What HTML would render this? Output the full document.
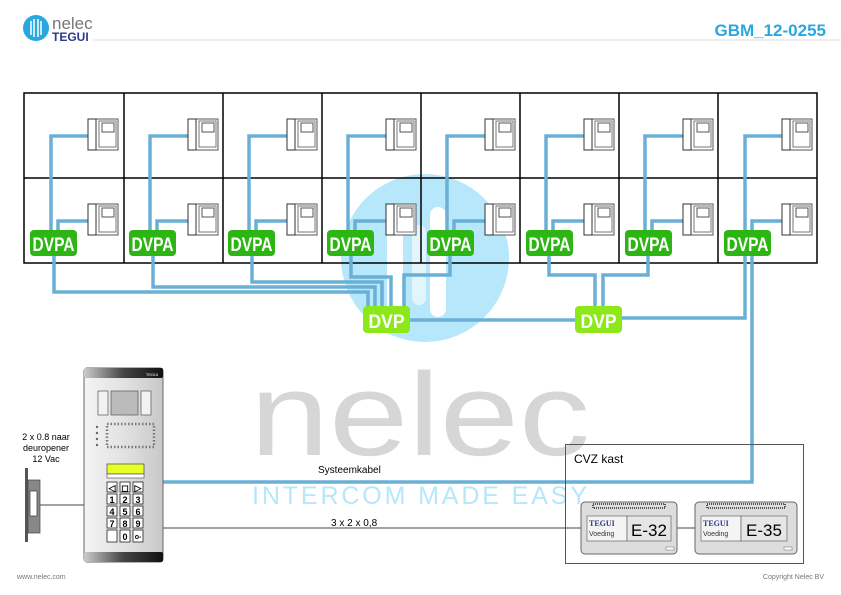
<!DOCTYPE html>
<html><head><meta charset="utf-8"><style>
html,body{margin:0;padding:0;background:#fff;}
svg{display:block;font-family:"Liberation Sans",sans-serif;}
</style></head><body>
<svg width="841" height="595" viewBox="0 0 841 595" xmlns="http://www.w3.org/2000/svg">
<defs>
<g id="ph">
<rect x="0" y="0" width="30" height="31" fill="#fff" stroke="#555" stroke-width="1"/>
<rect x="0" y="0" width="8" height="31" fill="#fff" stroke="#333" stroke-width="1"/>
<rect x="11" y="2" width="17" height="26" fill="#fff" stroke="#777" stroke-width="1"/>
<rect x="14" y="4" width="12" height="9" fill="#fff" stroke="#555" stroke-width="1"/>
</g>
<linearGradient id="pg" x1="0" x2="1"><stop offset="0" stop-color="#f4f4f4"/><stop offset="0.5" stop-color="#e2e2e2"/><stop offset="1" stop-color="#c8c8c8"/></linearGradient>
<linearGradient id="bg" x1="0" x2="1"><stop offset="0" stop-color="#ccc"/><stop offset="0.5" stop-color="#444"/><stop offset="1" stop-color="#111"/></linearGradient>
</defs>

<!-- header -->
<circle cx="36" cy="28" r="13" fill="#29a8e0"/>
<path d="M31 21v14M34 19v18M38 19v18M41 21v14" stroke="#fff" stroke-width="1.5"/>
<text x="52" y="29" font-size="17" fill="#777">nelec</text>
<text x="52" y="41" font-size="12" font-weight="bold" fill="#2a3a8a">TEGUI</text>
<line x1="93" y1="40" x2="841" y2="40" stroke="#ddd" stroke-width="1"/>
<text x="826" y="36" font-size="17" font-weight="bold" fill="#29a8e0" text-anchor="end">GBM_12-0255</text>

<!-- watermark circle -->
<circle cx="425" cy="258" r="84" fill="#b6e7fa"/>
<rect x="387" y="219" width="16" height="110" rx="8" fill="#fff"/>
<rect x="430" y="207" width="16" height="110" rx="8" fill="#fff"/>
<rect x="412" y="225" width="14" height="80" rx="7" fill="#fff" opacity="0.6"/>

<!-- nelec watermark -->
<text x="250" y="455" font-size="118" fill="#d6d6d6" textLength="340" lengthAdjust="spacingAndGlyphs">nelec</text>
<text x="252" y="504" font-size="25" fill="#b6e7fa" textLength="338" lengthAdjust="spacing" letter-spacing="3">INTERCOM MADE EASY</text>

<!-- grid -->
<g fill="none" stroke="#000" stroke-width="1.5">
<rect x="24" y="93" width="793" height="170"/>
<line x1="24" y1="178" x2="817" y2="178"/>
<line x1="124" y1="93" x2="124" y2="263"/>
<line x1="223" y1="93" x2="223" y2="263"/>
<line x1="322" y1="93" x2="322" y2="263"/>
<line x1="421" y1="93" x2="421" y2="263"/>
<line x1="520" y1="93" x2="520" y2="263"/>
<line x1="619" y1="93" x2="619" y2="263"/>
<line x1="718" y1="93" x2="718" y2="263"/>
</g>

<!-- wires -->
<g fill="none" stroke="#6ab0d6" stroke-width="3.5">
<!-- per column phone wires -->
<path d="M88 136H51V245M88 221H58V245"/>
<path d="M188 136H150V245M188 221H157V245"/>
<path d="M287 136H249V245M287 221H256V245"/>
<path d="M386 136H348V245M386 221H355V245"/>
<path d="M485 136H447V245M485 221H454V245"/>
<path d="M584 136H546V245M584 221H553V245"/>
<path d="M683 136H645V245M683 221H652V245"/>
<path d="M782 136H745V245M782 221H752V245"/>
<!-- buses to DVP1 -->
<path d="M54 256V292H368V310"/>
<path d="M153 256V287H375V310"/>
<path d="M252 256V282H382V310"/>
<path d="M351 256V277H391V310"/>
<path d="M450 256V275H404V310"/>
<!-- to DVP2 -->
<path d="M549 256V275H595V310"/>
<path d="M648 256V275H603V310"/>
<path d="M745 256V318H620"/>
<path d="M408 320H578"/>
<path d="M752 256V482H163"/>
</g>

<!-- DVPA badges -->
<g font-size="19" font-weight="bold" fill="#fff" text-anchor="middle">
<g fill="#2db514"><rect x="30" y="230" width="47" height="26" rx="4"/><rect x="129" y="230" width="47" height="26" rx="4"/><rect x="228" y="230" width="47" height="26" rx="4"/><rect x="327" y="230" width="47" height="26" rx="4"/><rect x="427" y="230" width="47" height="26" rx="4"/><rect x="526" y="230" width="47" height="26" rx="4"/><rect x="625" y="230" width="47" height="26" rx="4"/><rect x="724" y="230" width="47" height="26" rx="4"/></g>
<text x="53.5" y="251" textLength="42" lengthAdjust="spacingAndGlyphs">DVPA</text>
<text x="152.5" y="251" textLength="42" lengthAdjust="spacingAndGlyphs">DVPA</text>
<text x="251.5" y="251" textLength="42" lengthAdjust="spacingAndGlyphs">DVPA</text>
<text x="350.5" y="251" textLength="42" lengthAdjust="spacingAndGlyphs">DVPA</text>
<text x="450.5" y="251" textLength="42" lengthAdjust="spacingAndGlyphs">DVPA</text>
<text x="549.5" y="251" textLength="42" lengthAdjust="spacingAndGlyphs">DVPA</text>
<text x="648.5" y="251" textLength="42" lengthAdjust="spacingAndGlyphs">DVPA</text>
<text x="747.5" y="251" textLength="42" lengthAdjust="spacingAndGlyphs">DVPA</text>
<g fill="#8de81a"><rect x="363" y="306" width="47" height="27" rx="4"/><rect x="575" y="306" width="47" height="27" rx="4"/></g>
<text x="386.5" y="328" textLength="36" lengthAdjust="spacingAndGlyphs">DVP</text>
<text x="598.5" y="328" textLength="36" lengthAdjust="spacingAndGlyphs">DVP</text>
</g>

<!-- phones -->
<use href="#ph" x="88" y="119"/><use href="#ph" x="88" y="204"/>
<use href="#ph" x="188" y="119"/><use href="#ph" x="188" y="204"/>
<use href="#ph" x="287" y="119"/><use href="#ph" x="287" y="204"/>
<use href="#ph" x="386" y="119"/><use href="#ph" x="386" y="204"/>
<use href="#ph" x="485" y="119"/><use href="#ph" x="485" y="204"/>
<use href="#ph" x="584" y="119"/><use href="#ph" x="584" y="204"/>
<use href="#ph" x="683" y="119"/><use href="#ph" x="683" y="204"/>
<use href="#ph" x="782" y="119"/><use href="#ph" x="782" y="204"/>

<!-- lock -->
<text x="46" y="440" font-size="9" text-anchor="middle" fill="#000">2 x 0.8 naar</text>
<text x="46" y="451" font-size="9" text-anchor="middle" fill="#000">deuropener</text>
<text x="46" y="462" font-size="9" text-anchor="middle" fill="#000">12 Vac</text>
<rect x="25" y="468" width="3" height="74" fill="#555"/>
<rect x="28" y="480" width="12" height="53" fill="#888" stroke="#444" stroke-width="0.7"/>
<rect x="30" y="491" width="7" height="25" fill="#fff" stroke="#333" stroke-width="0.7"/>
<line x1="40" y1="505" x2="84" y2="505" stroke="#444" stroke-width="1"/>
<line x1="163" y1="528" x2="582" y2="528" stroke="#444" stroke-width="1"/>
<line x1="677" y1="528" x2="695" y2="528" stroke="#444" stroke-width="1"/>

<!-- panel -->
<rect x="84" y="368" width="79" height="194" rx="3" fill="url(#pg)" stroke="#666" stroke-width="1"/>
<rect x="84" y="368" width="79" height="10" rx="2" fill="url(#bg)"/>
<rect x="84" y="552" width="79" height="10" rx="2" fill="url(#bg)"/>
<text x="152" y="376" font-size="4" fill="#fff" text-anchor="middle">TEGUI</text>
<rect x="98" y="391" width="10" height="24" fill="#f2f2f2" stroke="#555" stroke-width="0.7"/>
<rect x="111" y="391" width="27" height="24" fill="#bbb" stroke="#555" stroke-width="0.7"/>
<rect x="141" y="391" width="10" height="24" fill="#f2f2f2" stroke="#555" stroke-width="0.7"/>
<g fill="#666">
<circle cx="97" cy="427" r="1.2"/><circle cx="97" cy="433" r="1.2"/><circle cx="97" cy="439" r="1.2"/><circle cx="97" cy="445" r="1.2"/>
</g>
<rect x="107" y="424" width="47" height="23" fill="none" stroke="#777" stroke-width="2.5" stroke-dasharray="1.5 2"/>
<rect x="107" y="464" width="37" height="10" fill="#e8ff2a" stroke="#444" stroke-width="0.7"/>
<rect x="107" y="474" width="37" height="4" fill="#fff" stroke="#444" stroke-width="0.6"/>
<g fill="#fff" stroke="#222" stroke-width="0.8">
<rect x="107" y="482" width="10" height="10"/><rect x="120" y="482" width="10" height="10"/><rect x="133" y="482" width="10" height="10"/>
<rect x="107" y="494" width="10" height="10"/><rect x="120" y="494" width="10" height="10"/><rect x="133" y="494" width="10" height="10"/>
<rect x="107" y="506" width="10" height="10"/><rect x="120" y="506" width="10" height="10"/><rect x="133" y="506" width="10" height="10"/>
<rect x="107" y="518" width="10" height="10"/><rect x="120" y="518" width="10" height="10"/><rect x="133" y="518" width="10" height="10"/>
<rect x="107" y="530" width="10" height="12"/><rect x="120" y="530" width="10" height="12"/><rect x="133" y="530" width="10" height="12"/>
</g>
<g font-size="9" font-weight="bold" text-anchor="middle" fill="#000">
<text x="112" y="491">◁</text><text x="125" y="491">◻</text><text x="138" y="491">▷</text>
<text x="112" y="503">1</text><text x="125" y="503">2</text><text x="138" y="503">3</text>
<text x="112" y="515">4</text><text x="125" y="515">5</text><text x="138" y="515">6</text>
<text x="112" y="527">7</text><text x="125" y="527">8</text><text x="138" y="527">9</text>
<text x="125" y="540">0</text><text x="138" y="539" font-size="7">o-</text>
</g>

<!-- labels -->
<text x="318" y="473" font-size="10" fill="#000">Systeemkabel</text>
<text x="331" y="526" font-size="10" fill="#000">3 x 2 x 0,8</text>

<!-- CVZ kast -->
<rect x="565.5" y="444.5" width="238" height="119" fill="none" stroke="#555" stroke-width="1"/>
<text x="574" y="463" font-size="12" fill="#000">CVZ kast</text>

<!-- E-32 -->
<g>
<rect x="581" y="502" width="96" height="52" rx="4" fill="#ddd" stroke="#666" stroke-width="1"/>
<rect x="593" y="504" width="72" height="4" fill="none" stroke="#555" stroke-width="2" stroke-dasharray="1 1"/>
<rect x="587" y="516" width="40" height="25" fill="#f4f4f4" stroke="#666" stroke-width="0.7"/>
<text x="589" y="526" font-size="8" font-weight="bold" fill="#2a3a8a" font-family="Liberation Serif,serif">TEGUI</text>
<text x="589" y="536" font-size="7" fill="#333">Voeding</text>
<rect x="627" y="516" width="44" height="25" fill="#e6e6e6" stroke="#666" stroke-width="0.7"/>
<text x="649" y="536" font-size="17" text-anchor="middle" fill="#000">E-32</text>
<rect x="666" y="547" width="8" height="3" fill="#fff" stroke="#666" stroke-width="0.5"/>
</g>
<g>
<rect x="695" y="502" width="102" height="52" rx="4" fill="#ddd" stroke="#666" stroke-width="1"/>
<rect x="707" y="504" width="78" height="4" fill="none" stroke="#555" stroke-width="2" stroke-dasharray="1 1"/>
<rect x="701" y="516" width="40" height="25" fill="#f4f4f4" stroke="#666" stroke-width="0.7"/>
<text x="703" y="526" font-size="8" font-weight="bold" fill="#2a3a8a" font-family="Liberation Serif,serif">TEGUI</text>
<text x="703" y="536" font-size="7" fill="#333">Voeding</text>
<rect x="741" y="516" width="46" height="25" fill="#e6e6e6" stroke="#666" stroke-width="0.7"/>
<text x="764" y="536" font-size="17" text-anchor="middle" fill="#000">E-35</text>
<rect x="784" y="547" width="8" height="3" fill="#fff" stroke="#666" stroke-width="0.5"/>
</g>

<!-- footer -->
<text x="17" y="579" font-size="7" fill="#777">www.nelec.com</text>
<text x="824" y="579" font-size="7" fill="#777" text-anchor="end">Copyright Nelec BV</text>
</svg>
</body></html>
